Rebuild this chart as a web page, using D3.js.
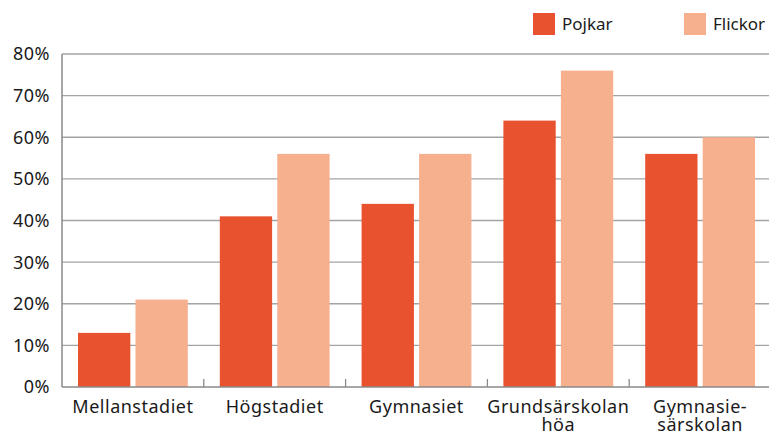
<!DOCTYPE html>
<html>
<head>
<meta charset="utf-8">
<script src="https://cdn.jsdelivr.net/npm/d3@7"></script>
<style>
  body { margin: 0; background: #fff; }
  svg text { font-family: "Noto Sans", sans-serif; fill: #1a1a1a; letter-spacing: 0.5px; }
  svg .legend text { letter-spacing: 0; }
</style>
</head>
<body>
<svg width="769" height="433"></svg>
<script>
var categories = ['Mellanstadiet', 'Högstadiet', 'Gymnasiet', 'Grundsärskolan|höa', 'Gymnasie-|särskolan'];
var seriesNames = ['Pojkar', 'Flickor'];
var pojkar = [13, 41, 44, 64, 56];
var flickor = [21, 56, 56, 76, 60];
var yTicks = [0, 10, 20, 30, 40, 50, 60, 70, 80];
var colors = ['#e9522e', '#f7b08d'];

var svg = d3.select('svg');
var plotLeft = 62, plotTop = 54, plotBottom = 387, bandW = 141.8;

var x = d3.scaleBand()
    .domain(categories)
    .range([plotLeft, plotLeft + bandW * categories.length])
    .paddingInner(0)
    .paddingOuter(0);
var xs = d3.scaleBand()
    .domain(seriesNames)
    .range([16, bandW - 16])
    .paddingInner(0.09);
var y = d3.scaleLinear().domain([0, 80]).range([plotBottom, plotTop]);

// gridlines
svg.append('g')
    .selectAll('line')
    .data(yTicks.slice(1))
    .join('line')
    .attr('x1', plotLeft)
    .attr('x2', 769)
    .attr('y1', function(d) { return y(d); })
    .attr('y2', function(d) { return y(d); })
    .attr('stroke', '#a3a3a3')
    .attr('stroke-width', 1.3);

// y labels
svg.append('g')
    .selectAll('text')
    .data(yTicks)
    .join('text')
    .attr('x', 50)
    .attr('y', function(d) { return y(d); })
    .attr('dy', '0.36em')
    .attr('text-anchor', 'end')
    .style('font-size', '18px')
    .text(function(d) { return d + '%'; });

// bars
var data = categories.map(function(c, i) {
    return { cat: c, vals: [pojkar[i], flickor[i]] };
});
var groups = svg.append('g')
    .selectAll('g')
    .data(data)
    .join('g')
    .attr('transform', function(d) { return 'translate(' + x(d.cat) + ',0)'; });
groups.selectAll('rect')
    .data(function(d) { return d.vals.map(function(v, j) { return { name: seriesNames[j], v: v, j: j }; }); })
    .join('rect')
    .attr('x', function(d) { return xs(d.name); })
    .attr('width', xs.bandwidth())
    .attr('y', function(d) { return y(d.v); })
    .attr('height', function(d) { return plotBottom - y(d.v); })
    .attr('fill', function(d) { return colors[d.j]; });

// axes lines
svg.append('line')
    .attr('x1', plotLeft).attr('x2', plotLeft)
    .attr('y1', plotTop).attr('y2', plotBottom)
    .attr('stroke', '#8a8a8a').attr('stroke-width', 1.5);
svg.append('line')
    .attr('x1', plotLeft).attr('x2', 769)
    .attr('y1', plotBottom).attr('y2', plotBottom)
    .attr('stroke', '#8a8a8a').attr('stroke-width', 1.5);
svg.append('g')
    .selectAll('line')
    .data(categories.slice(1))
    .join('line')
    .attr('x1', function(d) { return x(d); })
    .attr('x2', function(d) { return x(d); })
    .attr('y1', plotBottom - 8)
    .attr('y2', plotBottom)
    .attr('stroke', '#8a8a8a').attr('stroke-width', 1.3);

// category labels
var labels = svg.append('g')
    .selectAll('text')
    .data(categories)
    .join('text')
    .attr('x', function(d) { return x(d) + bandW / 2; })
    .attr('y', 413)
    .attr('text-anchor', 'middle')
    .style('font-size', '18px');
labels.selectAll('tspan')
    .data(function(d) { return d.split('|'); })
    .join('tspan')
    .attr('x', function() { return d3.select(this.parentNode).attr('x'); })
    .attr('dy', function(d, i) { return i === 0 ? 0 : 17.5; })
    .text(function(d) { return d; });

// legend
var legendX = [533, 684];
var legend = svg.append('g')
    .attr('class', 'legend')
    .selectAll('g')
    .data(seriesNames)
    .join('g')
    .attr('transform', function(d, i) { return 'translate(' + legendX[i] + ',13)'; });
legend.append('rect')
    .attr('width', 22).attr('height', 22)
    .attr('fill', function(d, i) { return colors[i]; });
legend.append('text')
    .attr('x', 29).attr('y', 11)
    .attr('dy', '0.36em')
    .style('font-size', '17px')
    .text(function(d) { return d; });
</script>
</body>
</html>
